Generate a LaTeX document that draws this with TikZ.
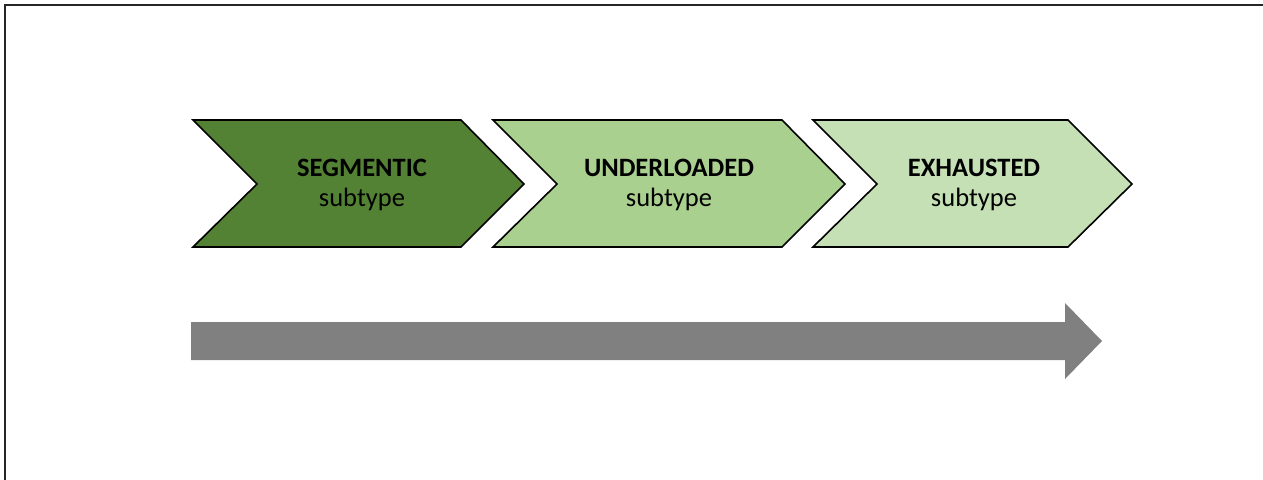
\documentclass[tikz,border=0pt]{standalone}
\usepackage{fontspec}
\setmainfont{Carlito}
\usepackage{tikz}
\usetikzlibrary{positioning}

\definecolor{segGreen}{HTML}{548235}
\definecolor{underGreen}{HTML}{A9D08E}
\definecolor{exhGreen}{HTML}{C5E0B4}
\definecolor{flowGray}{HTML}{808080}

\begin{document}
\begin{tikzpicture}[x=1pt, y=-1pt,
        chev/.style={draw=black, line width=1.6pt, line join=miter},
        lbl/.style={align=center, text=black, font=\fontsize{26.5}{29.5}\selectfont}]
        \useasboundingbox (0,0) rectangle (1263,479);
        \clip (0,0) rectangle (1263,479);
        \draw[line width=2pt, black!85] (5,5) rectangle (1280,500);

        % chevrons: left x, top-right x
        \draw[chev, fill=segGreen] (193,120) -- (461,120) -- (524,184) -- (461,247) -- (193,247) -- (257,184) -- cycle;
        \draw[chev, fill=underGreen] (493,120) -- (782,120) -- (845,184) -- (782,247) -- (493,247) -- (557,184) -- cycle;
        \draw[chev, fill=exhGreen] (813,120) -- (1068,120) -- (1132,184) -- (1068,247) -- (813,247) -- (877,184) -- cycle;

        \node (seg) [lbl] at (362,185) {\textbf{SEGMENTIC}\\subtype};
        \node (under) [lbl] at (669,185) {\textbf{UNDERLOADED}\\subtype};
        \node (exh) [lbl] at (974,185) {\textbf{EXHAUSTED}\\subtype};

        % progression arrow
        \fill[flowGray] (191,322) -- (1065,322) -- (1065,303) -- (1102,341) -- (1065,379) -- (1065,360) -- (191,360) -- cycle;
    \end{tikzpicture}
\end{document}
